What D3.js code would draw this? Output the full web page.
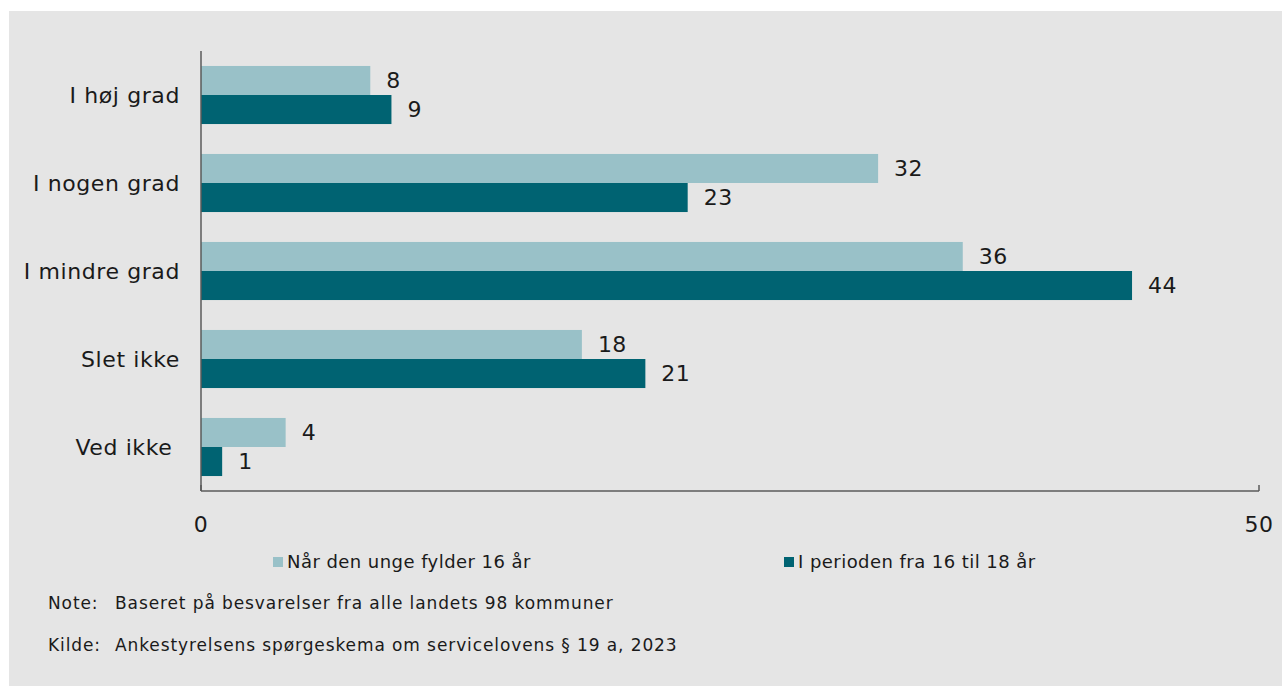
<!DOCTYPE html>
<html>
<head>
<meta charset="utf-8">
<script src="https://cdn.jsdelivr.net/npm/d3@7"></script>
<style>
  body { margin: 0; background: #fff; }
  svg { display: block; font-family: "DejaVu Sans", Verdana, sans-serif; }
</style>
</head>
<body>
<svg id="chart"></svg>
<script>
// data
const categories = ["I høj grad", "I nogen grad", "I mindre grad", "Slet ikke", "Ved ikke\u00a0"];
const seriesNames = ["Når den unge fylder 16 år", "I perioden fra 16 til 18 år"];
const values16 = [8, 32, 36, 18, 4];
const values1618 = [9, 23, 44, 21, 1];
const xTicks = [0, 50];
const notes = [
  ["Note:", "Baseret på besvarelser fra alle landets 98 kommuner"],
  ["Kilde:", "Ankestyrelsens spørgeskema om servicelovens § 19 a, 2023"]
];

const W = 1282, H = 686;
const colors = ["#99c1c8", "#006372"];
const textColor = "#1a1a1a";
const axisColor = "#5a5a5a";

const svg = d3.select("#chart").attr("width", W).attr("height", H);

// gray panel
svg.append("rect")
  .attr("x", 9).attr("y", 11)
  .attr("width", W - 9).attr("height", H - 11)
  .attr("fill", "#e5e5e5");

const x = d3.scaleLinear().domain([0, 50]).range([201, 1259]);
const y = d3.scaleBand().domain(categories).range([51, 491]).paddingInner(0.34).paddingOuter(0.17);
const ySub = d3.scaleBand().domain([0, 1]).range([0, y.bandwidth()]);

const rows = categories.map((c, i) => ({ cat: c, vals: [values16[i], values1618[i]] }));

const groups = svg.selectAll(".grp")
  .data(rows)
  .join("g")
  .attr("class", "grp")
  .attr("transform", d => `translate(0,${y(d.cat)})`);

groups.selectAll("rect")
  .data(d => d.vals.map((v, j) => ({ v, j })))
  .join("rect")
  .attr("x", x(0))
  .attr("y", d => ySub(d.j))
  .attr("width", d => x(d.v) - x(0))
  .attr("height", ySub.bandwidth())
  .attr("fill", d => colors[d.j]);

groups.selectAll("text.val")
  .data(d => d.vals.map((v, j) => ({ v, j })))
  .join("text")
  .attr("class", "val")
  .attr("x", d => x(d.v) + 16)
  .attr("y", d => ySub(d.j) + ySub.bandwidth() / 2)
  .attr("dy", "0.36em")
  .attr("fill", textColor)
  .style("font-size", "22px")
  .style("letter-spacing", "0.5px")
  .text(d => d.v);

// category labels
svg.selectAll("text.cat")
  .data(categories)
  .join("text")
  .attr("class", "cat")
  .attr("x", 180)
  .attr("y", d => y(d) + y.bandwidth() / 2)
  .attr("dy", "0.36em")
  .attr("text-anchor", "end")
  .attr("fill", textColor)
  .style("font-size", "22px")
  .style("letter-spacing", "0.6px")
  .style("white-space", "pre")
  .text(d => d);

// axes
const axisG = svg.append("g");
axisG.append("line")
  .attr("x1", x(0)).attr("x2", x(0))
  .attr("y1", 51).attr("y2", 491)
  .attr("stroke", axisColor).attr("stroke-width", 1.5);
axisG.append("line")
  .attr("x1", x(0)).attr("x2", x(50))
  .attr("y1", 491).attr("y2", 491)
  .attr("stroke", axisColor).attr("stroke-width", 1.5);
axisG.selectAll("line.tick")
  .data(xTicks)
  .join("line")
  .attr("class", "tick")
  .attr("x1", d => x(d)).attr("x2", d => x(d))
  .attr("y1", 485).attr("y2", 491)
  .attr("stroke", axisColor).attr("stroke-width", 1.5);
axisG.selectAll("text.tick")
  .data(xTicks)
  .join("text")
  .attr("class", "tick")
  .attr("x", d => x(d))
  .attr("y", 532)
  .attr("text-anchor", "middle")
  .attr("fill", textColor)
  .style("font-size", "22px")
  .style("letter-spacing", "0.5px")
  .text(d => d);

// legend
const legendX = [273, 784];
const legend = svg.selectAll(".legend")
  .data(seriesNames)
  .join("g")
  .attr("class", "legend")
  .attr("transform", (d, i) => `translate(${legendX[i]},562)`);
legend.append("rect")
  .attr("x", 0).attr("y", -5)
  .attr("width", 10).attr("height", 10)
  .attr("fill", (d, i) => colors[i]);
legend.append("text")
  .attr("x", 14)
  .attr("dy", "0.36em")
  .attr("fill", textColor)
  .style("font-size", "18px")
  .style("letter-spacing", "0.45px")
  .text(d => d);

// notes
const noteG = svg.selectAll(".note")
  .data(notes)
  .join("g")
  .attr("class", "note")
  .attr("transform", (d, i) => `translate(48,${603 + i * 42})`);
noteG.append("text")
  .attr("dy", "0.36em")
  .attr("fill", textColor)
  .style("font-size", "17px")
  .style("letter-spacing", "0.9px")
  .text(d => d[0]);
noteG.append("text")
  .attr("x", 67)
  .attr("dy", "0.36em")
  .attr("fill", textColor)
  .style("font-size", "17px")
  .style("letter-spacing", "0.9px")
  .text(d => d[1]);
</script>
</body>
</html>
